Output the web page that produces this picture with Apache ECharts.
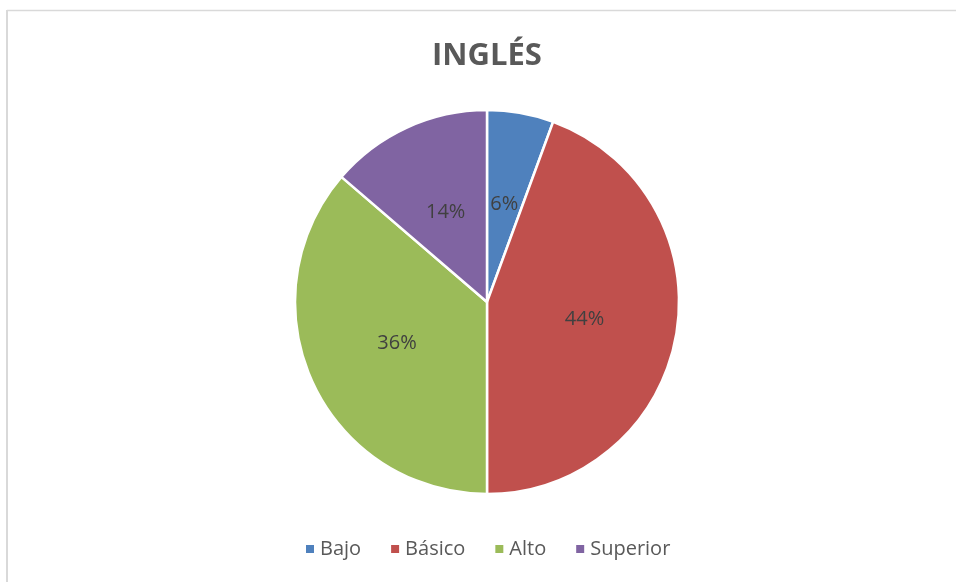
<!DOCTYPE html>
<html><head><meta charset="utf-8">
<script src="https://cdn.jsdelivr.net/npm/echarts@6/dist/echarts.min.js"></script>
<style>html,body{margin:0;padding:0;background:#fff}#c{width:956px;height:582px}</style>
</head><body><div id="c"></div>
<script>
const titleText = 'INGLÉS';
const categories = ['Bajo', 'Básico', 'Alto', 'Superior'];
const values = [5.6, 44.4, 36.3, 13.7];
const colors = ['#4F81BD', '#C0504D', '#9BBB59', '#8064A2'];

const chart = echarts.init(document.getElementById('c'));
const font = 'Open Sans, Liberation Sans, sans-serif';
chart.setOption({
  animation: false,
  backgroundColor: '#fff',
  title: {
    text: titleText, left: 427, top: 36,
    textStyle: { fontFamily: font, fontSize: 31, fontWeight: 'bold', color: '#595959' }
  },
  legend: {
    bottom: 18, left: 299, itemWidth: 10, itemHeight: 10, itemGap: 28,
    icon: 'rect',
    textStyle: { fontFamily: font, fontSize: 20, color: '#595959' },
    data: categories
  },
  graphic: [
    { type: 'line', shape: { x1: 7, y1: 10.5, x2: 956, y2: 10.5 }, style: { stroke: '#d9d9d9', lineWidth: 1.5 } },
    { type: 'line', shape: { x1: 7, y1: 10, x2: 7, y2: 582 }, style: { stroke: '#d9d9d9', lineWidth: 2 } }
  ],
  series: [{
    type: 'pie',
    center: [487, 302],
    radius: [0, 192],
    startAngle: 90,
    clockwise: true,
    itemStyle: { borderColor: '#fff', borderWidth: 2.5 },
    label: {
      show: true, position: 'inside',
      fontFamily: font, fontSize: 20, color: '#404040',
      formatter: p => Math.round(p.value) + '%'
    },
    labelLine: { show: false },
    emphasis: { disabled: true },
    data: categories.map((c, i) => ({ name: c, value: values[i], itemStyle: { color: colors[i] } }))
  }]
});
</script></body></html>
